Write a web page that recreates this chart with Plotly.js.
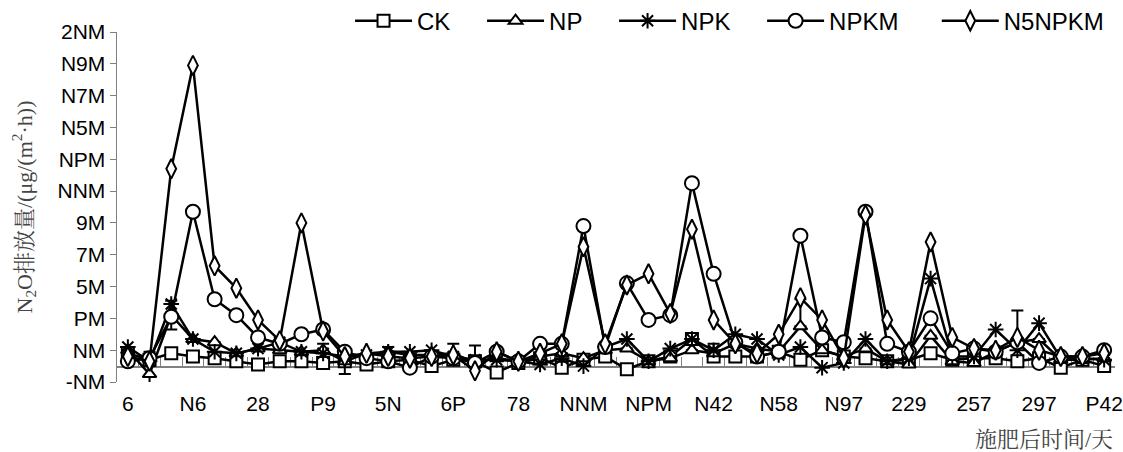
<!DOCTYPE html>
<html><head><meta charset="utf-8">
<script src="https://cdn.plot.ly/plotly-3.0.1.min.js"></script>
<style>body{margin:0;background:#fff}#chart{width:1123px;height:452px}</style>
</head><body><div id="chart"></div>
<script>
// tick labels (as printed in the reference)
const xTickLabels = ["6","N6","28","P9","5N","6P","78","NNM","NPM","N42","N58","N97","229","257","297","P42"];
const yTickLabels = ["-NM","NM","PM","5M","7M","9M","NNM","NPM","N5M","N7M","N9M","2NM"];
const yTickValues = [-10,10,30,50,70,90,110,130,150,170,190,210];
const seriesNames = ["CK","NP","NPK","NPKM","N5NPKM"];

// series values, one per sampling date (46 dates)
const CK    = [8,4,8,6,5,3,1,3,3,2,3,1,3,4,0,4,3,-4,2,5,-1,4,6,-2,3,6,17,6,6,6,9,4,10,6,5,3,4,8,4,5,5,3,5,-1,4,0];
const NP    = [10,-5,32,17,15,8,11,10,9,10,3,8,9,7,7,8,2,5,3,6,8,5,10,11,3,5,10,8,14,11,9,25,10,6,11,3,1,19,3,2,9,15,17,4,4,5];
const NPK   = [12,3,39,17,9,8,11,15,9,8,6,7,9,9,10,6,4,4,3,1,5,0,12,17,3,11,17,10,20,17,7,12,-1,2,17,3,5,55,6,6,23,10,27,5,5,4];
const NPKM  = [3,5,31,97,42,32,18,14,20,23,9,5,3,-1,6,5,2,9,3,14,14,88,12,52,29,32,115,58,15,6,9,82,18,15,97,14,9,30,8,11,9,15,2,6,6,10];
const N6NPKM= [6,3,124,189,63,49,29,16,90,22,6,8,6,5,6,7,-3,9,3,8,14,75,14,51,58,33,86,29,14,8,20,43,29,5,95,29,9,78,18,11,10,18,10,6,6,8];
// NP error bars (upper / lower), 0 = none
const NPerrPlus  = [0,14,9,0,0,0,0,0,0,4,0,0,3,0,0,6,11,0,0,0,0,0,0,0,0,0,0,6,0,0,0,17,0,0,0,0,0,0,0,0,0,20,0,0,0,0];
const NPerrMinus = [0,7,9,0,0,0,0,0,0,0,8,0,0,0,0,0,0,0,0,0,0,0,0,0,0,0,0,0,0,0,0,0,0,0,0,0,0,0,0,0,0,0,0,0,0,0];

const n = CK.length;
const xs = CK.map((_, i) => i);
const labelPos = xTickLabels.map((_, k) => k * 3);
const bounds = []; for (let i = 0; i <= n; i++) bounds.push(i - 0.5);
// trailing no-break spaces only widen the gap between legend entries
const pad = [4, 4, 4, 5, 0];
const legendName = (k) => seriesNames[k] + '\u00a0'.repeat(pad[k]);

function tr(k, y, symbol, size, extra) {
  return Object.assign({
    type: 'scatter', mode: 'lines+markers', name: legendName(k), x: xs, y: y,
    line: {color: '#000', width: 2.5},
    marker: {symbol: symbol, size: size, color: '#fff', line: {color: '#000', width: 2}},
    cliponaxis: false
  }, extra || {});
}

const data = [
  tr(0, CK, 'square', 12),
  tr(1, NP, 'triangle-up', 12, {error_y: {type: 'data', symmetric: false, array: NPerrPlus, arrayminus: NPerrMinus, color: '#000', thickness: 2, width: 6}}),
  tr(2, NPK, 'asterisk-open', 13, {marker: {symbol: 'asterisk-open', size: 13, color: '#000', line: {color: '#000', width: 2}}}),
  tr(3, NPKM, 'circle', 14),
  tr(4, N6NPKM, 'diamond-tall', 14),
  {type: 'scatter', x: [null], y: [null], xaxis: 'x2', showlegend: false, hoverinfo: 'skip'}
];

const sans = 'Liberation Sans, Arial, sans-serif';
const serif = 'Liberation Serif, Noto Serif CJK SC, Noto Sans CJK SC, serif';
const layout = {
  width: 1123, height: 452,
  margin: {l: 117, r: 8, t: 32, b: 70, autoexpand: false},
  paper_bgcolor: '#fff', plot_bgcolor: '#fff',
  showlegend: true,
  legend: {orientation: 'h', x: 0.2335, y: 1.031, xanchor: 'left', yanchor: 'middle',
           font: {family: sans, size: 24, color: '#000'}, itemwidth: 57, tracegroupgap: 0},
  xaxis: {range: [-0.5, n - 0.5], anchor: 'free', position: 10 / 220, layer: 'below traces',
          showline: true, linecolor: '#808080', linewidth: 1.5,
          tickmode: 'array', tickvals: bounds, ticktext: bounds.map(() => ''),
          ticks: 'inside', ticklen: 9, tickcolor: '#808080', tickwidth: 1,
          showgrid: false, zeroline: false, fixedrange: true},
  xaxis2: {overlaying: 'x', anchor: 'y', range: [-0.5, n - 0.5], side: 'bottom',
           tickmode: 'array', tickvals: labelPos, ticktext: xTickLabels,
           ticks: '', showline: false, showgrid: false, zeroline: false, ticklabelstandoff: 7,
           tickfont: {family: sans, size: 21, color: '#000'}},
  yaxis: {range: [-10, 210], tickmode: 'array', tickvals: yTickValues, ticktext: yTickLabels,
          showline: true, linecolor: '#808080', linewidth: 1.5,
          ticks: 'outside', ticklen: 6, tickcolor: '#808080',
          showgrid: false, zeroline: false,
          tickfont: {family: sans, size: 21, color: '#000'},
          title: {text: 'N<sub>2</sub>O排放量/(μg/(m<sup>2</sup>·h))', standoff: 19,
                  font: {family: serif, size: 22, color: '#444'}}},
  annotations: [{text: '施肥后时间/天', xref: 'paper', yref: 'paper', x: 1, y: -0.165,
                 xanchor: 'right', yanchor: 'middle', showarrow: false,
                 font: {family: serif, size: 22, color: '#444'}}]
};

Plotly.newPlot('chart', data, layout, {staticPlot: true, displayModeBar: false});
</script></body></html>
